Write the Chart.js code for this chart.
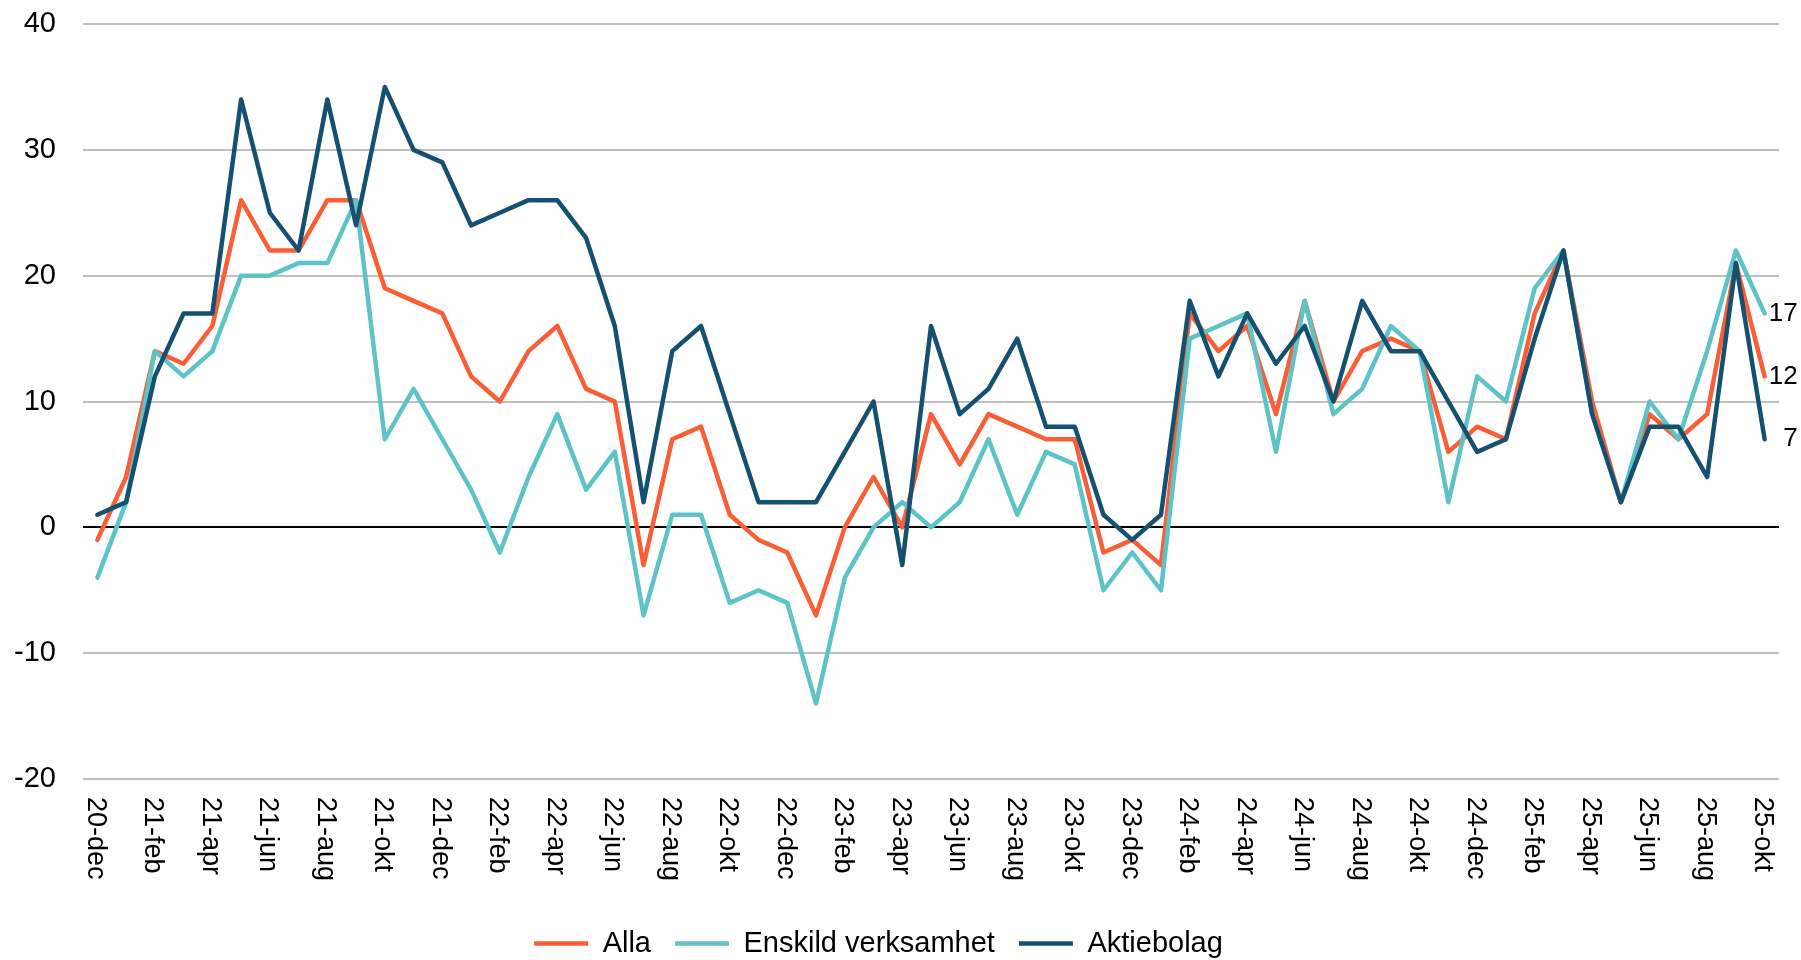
<!DOCTYPE html>
<html>
<head>
<meta charset="UTF-8">
<title>Alla, Enskild verksamhet, Aktiebolag</title>
<style>
  body { margin: 0; background: #fff; }
</style>
</head>
<body>
<canvas id="myChart" width="1801" height="960"></canvas>
<script src="https://cdn.jsdelivr.net/npm/chart.js@4/dist/chart.umd.min.js"></script>
<script>
var months = [
  "20-dec",
  "21-jan", "21-feb", "21-mar", "21-apr", "21-maj", "21-jun", "21-jul", "21-aug", "21-sep", "21-okt", "21-nov", "21-dec",
  "22-jan", "22-feb", "22-mar", "22-apr", "22-maj", "22-jun", "22-jul", "22-aug", "22-sep", "22-okt", "22-nov", "22-dec",
  "23-jan", "23-feb", "23-mar", "23-apr", "23-maj", "23-jun", "23-jul", "23-aug", "23-sep", "23-okt", "23-nov", "23-dec",
  "24-jan", "24-feb", "24-mar", "24-apr", "24-maj", "24-jun", "24-jul", "24-aug", "24-sep", "24-okt", "24-nov", "24-dec",
  "25-jan", "25-feb", "25-mar", "25-apr", "25-maj", "25-jun", "25-jul", "25-aug", "25-sep", "25-okt"
];

var alla = [
  -1,
  4, 14, 13, 16, 26, 22, 22, 26, 26, 19, 18, 17,
  12, 10, 14, 16, 11, 10, -3, 7, 8, 1, -1, -2,
  -7, 0, 4, 0, 9, 5, 9, 8, 7, 7, -2, -1,
  -3, 17, 14, 16, 9, 18, 10, 14, 15, 14, 6, 8,
  7, 17, 22, 10, 2, 9, 7, 9, 21, 12
];

var enskild = [
  -4,
  2, 14, 12, 14, 20, 20, 21, 21, 26, 7, 11, 7,
  3, -2, 4, 9, 3, 6, -7, 1, 1, -6, -5, -6,
  -14, -4, 0, 2, 0, 2, 7, 1, 6, 5, -5, -2,
  -5, 15, 16, 17, 6, 18, 9, 11, 16, 14, 2, 12,
  10, 19, 22, 9, 2, 10, 7, 14, 22, 17
];

var aktiebolag = [
  1,
  2, 12, 17, 17, 34, 25, 22, 34, 24, 35, 30, 29,
  24, 25, 26, 26, 23, 16, 2, 14, 16, 9, 2, 2,
  2, 6, 10, -3, 16, 9, 11, 15, 8, 8, 1, -1,
  1, 18, 12, 17, 13, 16, 10, 18, 14, 14, 10, 6,
  7, 15, 22, 9, 2, 8, 8, 4, 21, 7
];

var seriesNames = ["Alla", "Enskild verksamhet", "Aktiebolag"];
var seriesColors = ["#FA5E37", "#5EC3C7", "#14506F"];

var FONT = "'Liberation Sans', Arial, sans-serif";

// month labels, every other one, turned to read downwards
var xLabels = {
  id: 'xLabels',
  afterDraw: function(chart) {
    var x = chart.scales.x;
    var ctx = chart.ctx;
    ctx.save();
    ctx.font = '27px ' + FONT;
    ctx.fillStyle = '#000';
    ctx.textAlign = 'left';
    ctx.textBaseline = 'middle';
    months.forEach(function(m, i) {
      if (i % 2) return;
      ctx.save();
      ctx.translate(x.getPixelForValue(i) - 2, chart.chartArea.bottom + 18);
      ctx.rotate(Math.PI / 2);
      ctx.fillText(m, 0, 0);
      ctx.restore();
    });
    ctx.restore();
  }
};

// last value of each series, right of the line end
var endLabels = {
  id: 'endLabels',
  afterDatasetsDraw: function(chart) {
    var ctx = chart.ctx;
    ctx.save();
    ctx.font = '26px ' + FONT;
    ctx.fillStyle = '#000';
    ctx.textAlign = 'right';
    ctx.textBaseline = 'middle';
    chart.data.datasets.forEach(function(ds, i) {
      var last = ds.data.length - 1;
      var pt = chart.getDatasetMeta(i).data[last];
      ctx.fillText(String(ds.data[last]), pt.x + 33, pt.y);
    });
    ctx.restore();
  }
};

var ctx = document.getElementById('myChart').getContext('2d');
var datasets = [alla, enskild, aktiebolag].map(function(values, i) {
  return {
    label: seriesNames[i],
    data: values,
    borderColor: seriesColors[i],
    backgroundColor: seriesColors[i],
    borderWidth: 4.5,
    pointRadius: 0,
    pointStyle: 'line',
    tension: 0,
    borderJoinStyle: 'round',
    borderCapStyle: 'round',
    order: 3 - i
  };
});

var myChart = new Chart(ctx, {
  type: 'line',
  data: {
    labels: months,
    datasets: datasets
  },
  options: {
    responsive: false,
    animation: false,
    devicePixelRatio: 1,
    layout: { padding: { top: 24, right: 22, bottom: -8, left: -22 } },
    plugins: {
      tooltip: { enabled: false },
      legend: {
        position: 'bottom',
        labels: {
          usePointStyle: true,
          pointStyle: 'line',
          pointStyleWidth: 54,
          padding: 24,
          color: '#000',
          font: { family: FONT, size: 29 },
          sort: function(a, b) { return a.datasetIndex - b.datasetIndex; }
        }
      }
    },
    scales: {
      x: {
        offset: true,
        grid: { display: false },
        border: { display: false },
        ticks: { display: false },
        afterFit: function(scale) { scale.height = 126; }
      },
      y: {
        min: -20,
        max: 40,
        border: { display: false },
        grid: {
          drawTicks: false,
          lineWidth: 2,
          color: function(c) { return c.tick && c.tick.value === 0 ? '#000000' : '#BFBFBF'; }
        },
        ticks: {
          stepSize: 10,
          padding: 27,
          color: '#000',
          font: { family: FONT, size: 29 }
        },
        afterFit: function(scale) {
          scale.width = 105;
          scale.paddingTop = 0;
          scale.paddingBottom = 0;
        }
      }
    }
  },
  plugins: [xLabels, endLabels]
});
</script>
</body>
</html>
